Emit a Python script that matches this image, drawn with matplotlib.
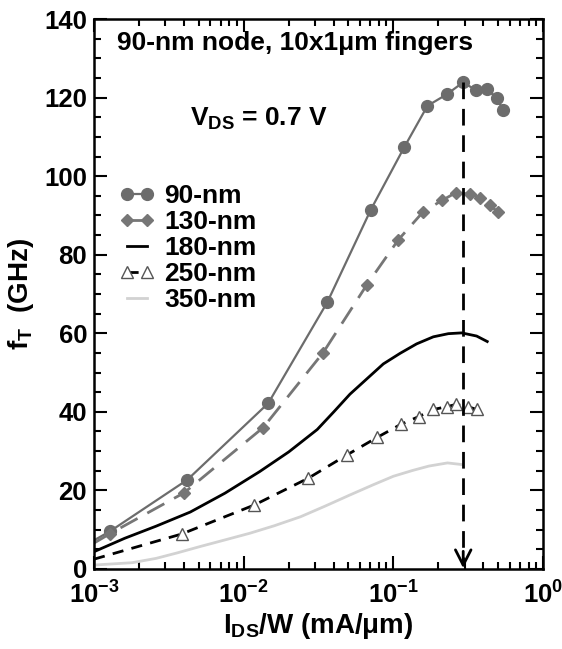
import numpy as np
import matplotlib
matplotlib.use("Agg")
import matplotlib.pyplot as plt
from matplotlib.ticker import LogLocator, MultipleLocator, NullFormatter

plt.rcParams["font.family"] = ["Liberation Sans", "DejaVu Sans"]
plt.rcParams["font.weight"] = "bold"
plt.rcParams["mathtext.fontset"] = "custom"
plt.rcParams["mathtext.rm"] = "Liberation Sans:bold"
plt.rcParams["mathtext.bf"] = "Liberation Sans:bold"
plt.rcParams["mathtext.it"] = "Liberation Sans:bold"
plt.rcParams["mathtext.default"] = "bf"

# Current density (mA/um) and fT (GHz) for each technology node
x90 = [0.001, 0.00128, 0.0042, 0.0146, 0.0362, 0.0708, 0.118, 0.169, 0.227, 0.293, 0.355, 0.420, 0.490, 0.542]
y90 = [7.3, 9.6, 22.7, 42.2, 67.9, 91.5, 107.3, 117.9, 120.8, 123.9, 121.9, 122.1, 120.0, 116.8]

x130 = [0.001, 0.00128, 0.0040, 0.0135, 0.034, 0.0664, 0.108, 0.158, 0.213, 0.262, 0.325, 0.379, 0.442, 0.502]
y130 = [6.6, 9.0, 19.4, 36.0, 55.1, 72.3, 83.8, 90.9, 93.9, 95.8, 95.4, 94.5, 92.6, 90.8]

x180 = [0.001, 0.0016, 0.0026, 0.0044, 0.0075, 0.0128, 0.020, 0.031, 0.040, 0.0513, 0.0857, 0.111, 0.143, 0.185, 0.233, 0.286, 0.360, 0.424]
y180 = [4.4, 7.8, 10.9, 14.5, 19.3, 24.8, 29.8, 35.5, 40.0, 44.5, 52.2, 54.9, 57.3, 59.1, 59.9, 60.1, 59.3, 57.9]

x250 = [0.001, 0.00385, 0.0118, 0.027, 0.0488, 0.078, 0.112, 0.148, 0.185, 0.227, 0.263, 0.317, 0.36]
y250 = [2.5, 8.9, 16.3, 23.1, 29.0, 33.5, 36.8, 38.8, 40.6, 41.3, 41.9, 41.3, 40.6]

x350 = [0.001, 0.0018, 0.0026, 0.0036, 0.0051, 0.0075, 0.011, 0.016, 0.024, 0.035, 0.051, 0.073, 0.10, 0.135, 0.173, 0.23, 0.284]
y350 = [1.0, 1.6, 2.7, 4.1, 5.7, 7.4, 9.1, 11.0, 13.3, 16.0, 18.8, 21.4, 23.6, 25.1, 26.2, 27.0, 26.6]

labels = ["90-nm", "130-nm", "180-nm", "250-nm", "350-nm"]

fig = plt.figure(figsize=(5.62, 6.49), dpi=100)
ax = fig.add_axes([0.1673, 0.1233, 0.7989, 0.8474])

ax.plot(x90, y90, color="#6c6c6c", lw=1.6, marker="o", ms=8.5,
        markevery=list(range(1, len(x90))), label=labels[0])
ax.plot(x130, y130, color="#767676", lw=2.0, ls=(0, (7, 4)), marker="D", ms=6.5,
        markevery=list(range(1, len(x130))), label=labels[1])
ax.plot(x180, y180, color="black", lw=2.0, label=labels[2])
ax.plot(x250, y250, color="black", lw=2.0, ls=(0, (4, 3)), marker="^", ms=8.5,
        mfc="white", mec="#555555", mew=1.0,
        markevery=list(range(1, len(x250))), label=labels[3])
ax.plot(x350, y350, color="#d2d2d2", lw=2.0, label=labels[4])

# Peak-fT current density marker
ipk = int(np.argmax(y90))
xpk, ypk = x90[ipk], y90[ipk]
ax.plot([xpk, xpk], [ypk, 2.0], color="black", lw=2.0, ls=(0, (6, 3.5)))
ax.annotate("", xy=(xpk, 0.2), xytext=(xpk, 4.5),
            arrowprops=dict(arrowstyle="->,head_length=0.55,head_width=0.28",
                            mutation_scale=20, color="black", lw=2.0,
                            shrinkA=0, shrinkB=0))

ax.set_xscale("log")
ax.set_xlim(1e-3, 1)
ax.set_ylim(0, 140)
ax.yaxis.set_major_locator(MultipleLocator(20))
ax.yaxis.set_minor_locator(MultipleLocator(5))
ax.xaxis.set_major_locator(LogLocator(base=10, numticks=10))
ax.xaxis.set_minor_locator(LogLocator(base=10, subs=np.arange(2, 10), numticks=10))
ax.xaxis.set_minor_formatter(NullFormatter())

ax.tick_params(which="both", direction="in", top=True, right=True, width=1.5,
               labelsize=18.5)
ax.tick_params(which="major", length=9.5)
ax.tick_params(which="minor", length=4.7)
ax.tick_params(axis="y", pad=5)
ax.tick_params(axis="x", pad=9)
for s in ax.spines.values():
    s.set_linewidth(1.8)

ax.set_ylabel(r"$\mathbf{f_T}$  (GHz)", fontsize=20, fontweight="bold", labelpad=6)
ax.set_xlabel(r"$\mathbf{I_{DS}}$/W (mA/μm)", fontsize=20, fontweight="bold", labelpad=2)

ax.text(0.051, 0.956, "90-nm node, 10x1μm fingers", transform=ax.transAxes,
        fontsize=19, fontweight="bold", ha="left", va="center")
ax.text(0.214, 0.818, r"$\mathbf{V_{DS}}$ = 0.7 V", transform=ax.transAxes,
        fontsize=19, fontweight="bold", ha="left", va="center")

leg = ax.legend(loc="upper left", bbox_to_anchor=(0.056, 0.70), frameon=False,
                numpoints=2, handlelength=1.36, handletextpad=0.34,
                labelspacing=0.08, borderpad=0, borderaxespad=0,
                prop=dict(size=19, weight="bold"))

fig.savefig("out.png", dpi=100)
